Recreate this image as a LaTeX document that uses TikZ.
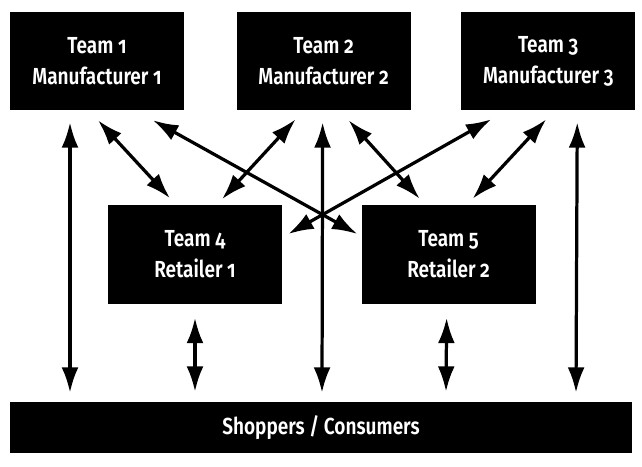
\documentclass[tikz,border=0pt]{standalone}
\usepackage{fontspec}
\setmainfont{Fira Sans}[Numbers=OldStyle, FakeStretch=0.82, BoldFont={Fira Sans SemiBold}]
\usetikzlibrary{arrows.meta,positioning}

\begin{document}
\begin{tikzpicture}[
  x=0.025cm, y=-0.025cm,
  every node/.style={align=center},
  team/.style={fill=black, text=white, inner sep=0pt, minimum width=4.35cm, minimum height=2.45cm,
    font=\bfseries\fontsize{16.5}{22}\selectfont},
  market/.style={fill=black, text=white, inner sep=0pt, minimum width=15.55cm, minimum height=1.275cm,
    font=\bfseries\fontsize{16.5}{22}\selectfont},
  link/.style={{Latex[length=18pt,width=12pt]}-{Latex[length=18pt,width=12pt]}, line width=2.3pt},
]
\useasboundingbox (0,0) rectangle (642,466);

\node[team] (t1) at (97,61) {Team 1\\Manufacturer 1};
\node[team, right=1.3cm of t1] (t2) {Team 2\\Manufacturer 2};
\node[team, right=1.25cm of t2] (t3) {Team 3\\Manufacturer 3};
\node[team] (t4) at (195,254.5) {Team 4\\Retailer 1};
\node[team, right=1.975cm of t4] (t5) {Team 5\\Retailer 2};
\node[market] (shop) at (321,427.5) {Shoppers / Consumers};

% manufacturers <-> retailers
\draw[link] ([shift={(1,10)}]t1.south) -- ([shift={(-25,-7)}]t4.north);
\draw[link] ([shift={(56,10)}]t1.south) -- ([shift={(-4,-20.5)}]t5.west);
\draw[link] ([shift={(-28,9)}]t2.south) -- ([shift={(27,-6)}]t4.north);
\draw[link] ([shift={(25,10)}]t2.south) -- ([shift={(-29,-6.5)}]t5.north);
\draw[link] ([shift={(-57,9)}]t3.south) -- ([shift={(6,-20.5)}]t4.east);
\draw[link] ([shift={(-2,9)}]t3.south) -- ([shift={(24,-6.5)}]t5.north);

% everybody <-> shoppers
\draw[link] ([shift={(-27,12)}]t1.south) -- ([shift={(-251,-9)}]shop.north);
\draw[link] ([shift={(-1,12)}]t2.south) -- ([shift={(1,-9)}]shop.north);
\draw[link] ([shift={(29,12)}]t3.south) -- ([shift={(255,-9)}]shop.north);
\draw[link] ([shift={(0,14)}]t4.south) -- ([shift={(-126,-10)}]shop.north);
\draw[link] ([shift={(-2,14)}]t5.south) -- ([shift={(125,-10)}]shop.north);
\end{tikzpicture}
\end{document}
